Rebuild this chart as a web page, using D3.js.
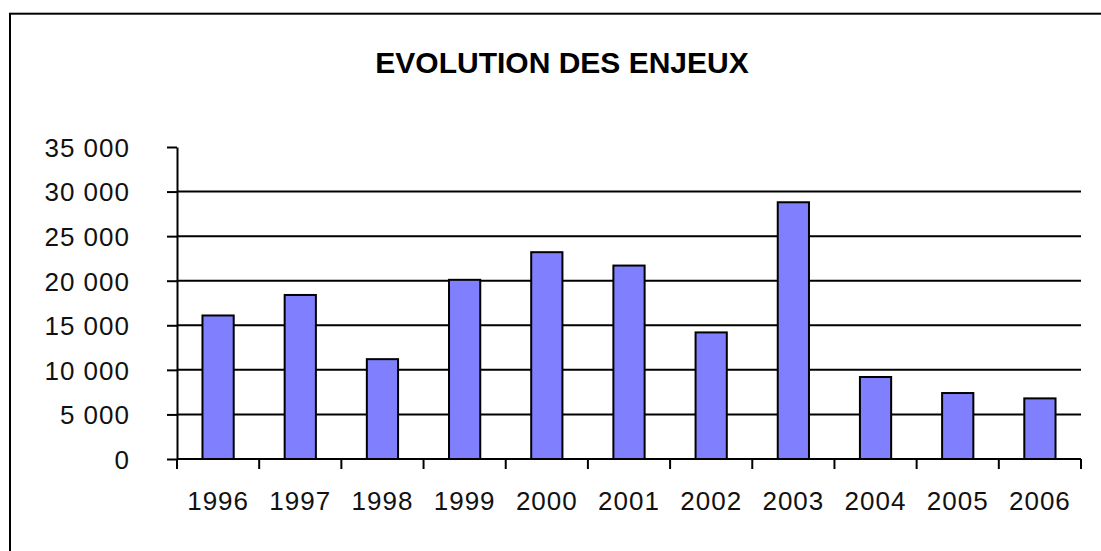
<!DOCTYPE html>
<html>
<head>
<meta charset="utf-8">
<script src="https://cdn.jsdelivr.net/npm/d3@7"></script>
<style>
  body { margin: 0; background: #fff; }
  text { font-family: Arial, "Liberation Sans", sans-serif; fill: #111; }
</style>
</head>
<body>
<svg id="enjeux" width="1101" height="551"></svg>
<script>
// Data
const years = ["1996", "1997", "1998", "1999", "2000", "2001", "2002", "2003", "2004", "2005", "2006"];
const enjeux = [16100, 18400, 11200, 20100, 23200, 21700, 14200, 28800, 9200, 7400, 6800];
const yTicks = [0, 5000, 10000, 15000, 20000, 25000, 30000, 35000];
const chartTitle = "EVOLUTION DES ENJEUX";

function drawEnjeux() {
  const margin = { top: 147, right: 20, bottom: 92, left: 177 };

  const svg = d3.select("#enjeux");
  const width = +svg.attr("width") - margin.left - margin.right;
  const height = +svg.attr("height") - margin.top - margin.bottom;

  const data = years.map((y, i) => ({ year: y, value: enjeux[i] }));

  // outer frame (runs off the right and bottom edges)
  svg
    .append("rect")
    .attr("x", 10)
    .attr("y", 13.7)
    .attr("width", 1200)
    .attr("height", 700)
    .style("fill", "none")
    .style("stroke", "#000")
    .style("stroke-width", 2);

  svg
    .append("text")
    .attr("x", 562)
    .attr("y", 73)
    .attr("text-anchor", "middle")
    .style("font-size", "30px")
    .style("font-weight", "bold")
    .style("fill", "#000")
    .text(chartTitle);

  const g = svg
    .append("g")
    .attr("transform", `translate(${margin.left},${margin.top})`);

  const fr = d3.formatLocale({ decimal: ",", thousands: " ", grouping: [3], currency: ["", " €"] });

  // Y scale
  const y = d3.scaleLinear().domain([0, 35000]).range([height, 0]);

  // X scale
  const x = d3
    .scaleBand()
    .domain(years)
    .range([0, width])
    .paddingInner(0.62)
    .paddingOuter(0.31);

  // gridlines (not at the top value)
  g.selectAll(".grid")
    .data(yTicks.filter((d) => d > 0 && d < 35000))
    .enter()
    .append("line")
    .attr("class", "grid")
    .attr("x1", 0)
    .attr("x2", width)
    .attr("y1", (d) => y(d))
    .attr("y2", (d) => y(d))
    .style("stroke", "#000")
    .style("stroke-width", 2);

  // bars
  g.selectAll(".bar")
    .data(data)
    .enter()
    .append("rect")
    .attr("class", "bar")
    .attr("x", (d) => x(d.year))
    .attr("width", x.bandwidth())
    .attr("y", (d) => y(d.value))
    .attr("height", (d) => y(0) - y(d.value))
    .style("fill", "#8080ff")
    .style("stroke", "#000")
    .style("stroke-width", 2);

  // Y axis
  const yAxis = g
    .append("g")
    .call(
      d3.axisLeft(y)
        .tickValues(yTicks)
        .tickSize(10)
        .tickSizeOuter(0)
        .tickPadding(37)
        .tickFormat(fr.format(",d"))
    );
  yAxis.selectAll("line, path").style("stroke", "#000").style("stroke-width", 2);
  yAxis
    .selectAll("text")
    .style("font-size", "26px")
    .style("letter-spacing", "1px")
    .attr("dy", "0.36em");

  // X axis: labels under each bar, ticks between categories
  const xAxis = g
    .append("g")
    .attr("transform", `translate(0,${height})`)
    .call(d3.axisBottom(x).tickSize(0).tickSizeOuter(0));
  xAxis.select("path").remove();
  xAxis
    .selectAll("text")
    .style("font-size", "26px")
    .style("letter-spacing", "1px")
    .attr("y", 51)
    .attr("dy", 0);

  xAxis
    .append("line")
    .attr("x1", 0)
    .attr("x2", width)
    .style("stroke", "#000")
    .style("stroke-width", 2);

  const step = x.step();
  const bounds = years.map((d, i) => i * step).concat([width]);
  xAxis
    .selectAll(".xtick")
    .data(bounds)
    .enter()
    .append("line")
    .attr("class", "xtick")
    .attr("x1", (d) => d)
    .attr("x2", (d) => d)
    .attr("y1", 0)
    .attr("y2", 10)
    .style("stroke", "#000")
    .style("stroke-width", 2);
}

drawEnjeux();
</script>
</body>
</html>
